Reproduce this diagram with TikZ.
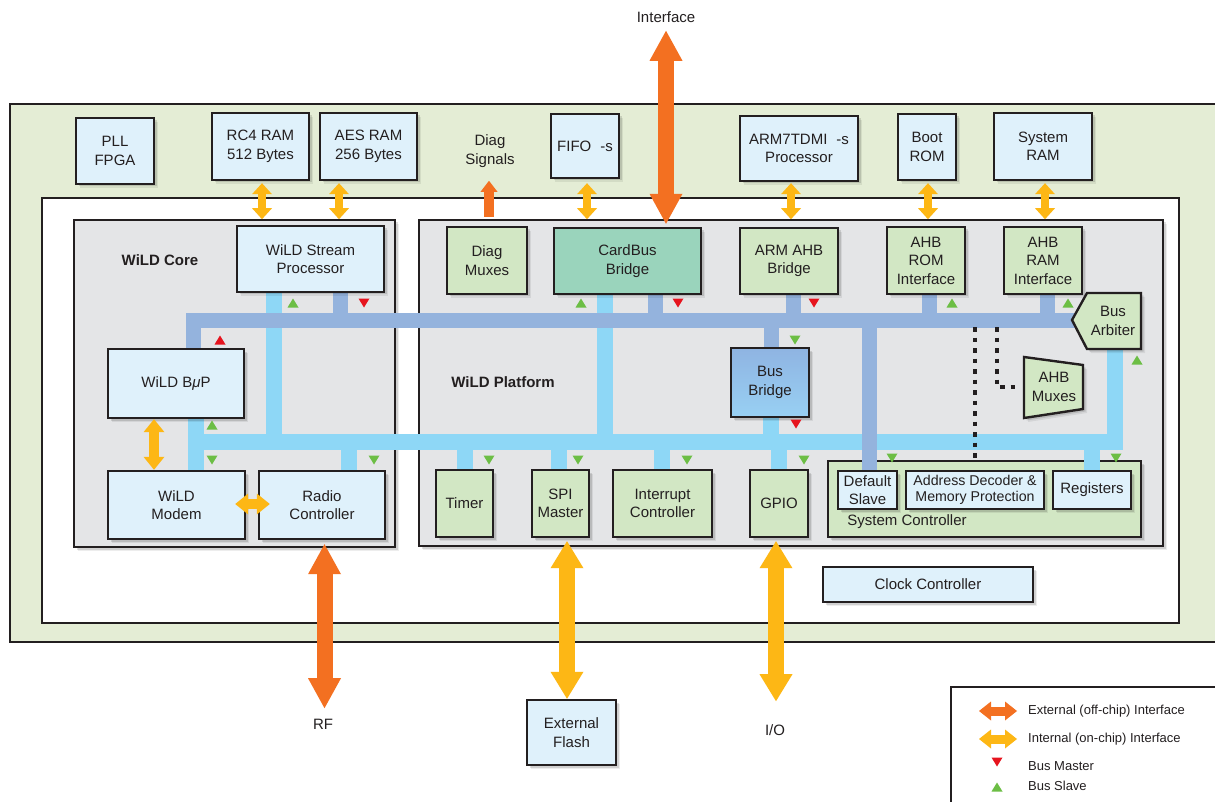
\documentclass[tikz,border=0pt]{standalone}
\usepackage{fontspec}
\setmainfont{Liberation Sans}
\usetikzlibrary{arrows.meta,calc,shadows}

\definecolor{ink}{RGB}{35,31,32}
\definecolor{chipgreen}{RGB}{228,237,213}
\definecolor{panelgray}{RGB}{228,229,231}
\definecolor{boxblue}{RGB}{223,241,251}
\definecolor{boxgreen}{RGB}{210,231,196}
\definecolor{cardteal}{RGB}{154,212,188}
\definecolor{bridgetop}{RGB}{143,180,226}
\definecolor{bridgebot}{RGB}{152,208,243}
\definecolor{ahbblue}{RGB}{148,179,221}
\definecolor{apbblue}{RGB}{142,215,246}
\definecolor{extorange}{RGB}{243,112,33}
\definecolor{intyellow}{RGB}{253,183,21}
\definecolor{masterred}{RGB}{230,20,30}
\definecolor{slavegreen}{RGB}{108,190,69}

\newcommand\boxfont{\fontsize{15}{18.5}\selectfont}
\newcommand\smallboxfont{\fontsize{14.2}{16}\selectfont}
\newcommand\legendfont{\fontsize{13}{15}\selectfont}
% bus role marker: #1 colour, #2 = 1 points up, -1 points down, (#3,#4) centre
\newcommand\busmark[4]{\fill[#1] ({#3-5.5},{#4+4.5*(#2)}) -- ({#3+5.5},{#4+4.5*(#2)}) -- ({#3},{#4-4.5*(#2)}) -- cycle;}

\pgfdeclarelayer{back}
\pgfdeclarelayer{bus}
\pgfsetlayers{back,bus,main}

\tikzset{
  softshadow/.style={
    general shadow={shadow xshift=4pt, shadow yshift=-4pt, fill=black, opacity=0.07},
    general shadow={shadow xshift=2.5pt, shadow yshift=-2.5pt, fill=black, opacity=0.12}},
  chipbox/.style={draw=ink, line width=2.4pt, text=ink, align=center, inner sep=0pt, font=\boxfont, softshadow},
  bluebox/.style={chipbox, fill=boxblue},
  greenbox/.style={chipbox, fill=boxgreen},
  dims/.style 2 args={minimum width=#1pt, minimum height=#2pt},
  panel/.style={draw=ink, line width=2.2pt, fill=panelgray, softshadow},
  caption/.style={text=ink, font=\boxfont, align=center, inner sep=0pt},
  legendtext/.style={text=ink, font=\legendfont, anchor=west, inner sep=0pt},
  ahbbus/.style={draw=ahbblue, line width=15pt, line join=miter},
  apbbus/.style={draw=apbblue, line width=16pt, line join=miter},
  dotline/.style={draw=ink, line width=4.5pt, dash pattern=on 4.5pt off 6pt},
  bigext/.style={draw=extorange, line width=16pt, >={Triangle[width=33pt,length=30pt,line width=0pt]}, <->},
  diagout/.style={draw=extorange, line width=10pt, >={Triangle[width=17pt,length=11pt,line width=0pt]}, ->},
  bigint/.style={draw=intyellow, line width=16pt, >={Triangle[width=33pt,length=27pt,line width=0pt]}, <->},
  toplink/.style={draw=intyellow, line width=8pt, >={Triangle[width=20pt,length=11pt,line width=0pt]}, <->},
  corelink/.style={draw=intyellow, line width=10pt, >={Triangle[width=21pt,length=13pt,line width=0pt]}, <->},
  legext/.style={draw=extorange, line width=9pt, >={Triangle[width=19pt,length=12pt,line width=0pt]}, <->},
  legint/.style={draw=intyellow, line width=9pt, >={Triangle[width=19pt,length=12pt,line width=0pt]}, <->},
}

\begin{document}
\begin{tikzpicture}[x=1pt, y=-1pt]
\path[use as bounding box] (0,0) rectangle (1215,802);
\clip (0,0) rectangle (1215,802);

% ---------- chip, white die area, the two subsystems ----------
\begin{pgfonlayer}{back}
  \fill[white] (0,0) rectangle (1215,802);
  \draw[ink, line width=2.4pt, fill=chipgreen] (10,104) rectangle (1240,642);
  \draw[ink, line width=2.4pt, fill=white] (42,198) rectangle (1179,623);
  \draw[panel] (74,220) rectangle (395,547);
  \draw[panel] (419,220) rectangle (1163,546);
  \node[greenbox, dims={313}{76}] (sysctl) at (984.5,499) {};
\end{pgfonlayer}

% ---------- on-chip memories and peripherals around the die ----------
\node[bluebox, dims={78}{66}] (pll) at (115,151) {PLL\\FPGA};
\node[bluebox, dims={97}{67}] (rc4) at (260.5,146.5) {RC4 RAM\\512 Bytes};
\node[bluebox, dims={97}{67}] (aes) at (368.5,146.5) {AES RAM\\256 Bytes};
\node[caption] (diagsig) at (490,151) {Diag\\Signals};
\node[bluebox, dims={68}{64}] (fifo) at (585,146) {FIFO\hspace{9pt}-s};
\node[bluebox, dims={118}{65}] (arm7) at (799,148.5) {ARM7TDMI\hspace{9pt}-s\\Processor};
\node[bluebox, dims={58}{66}] (bootrom) at (927,147) {Boot\\ROM};
\node[bluebox, dims={98}{67}] (sysram) at (1043,146.5) {System\\RAM};

% ---------- WiLD core ----------
\node[caption, font=\boxfont\bfseries] (corelabel) at (160,260) {WiLD Core};
\node[bluebox, dims={147}{66}] (wsp) at (310.5,259) {WiLD Stream\\Processor};
\node[bluebox, dims={136}{69}] (bup) at (176,383.5) {WiLD B\textit{μ}P};
\node[bluebox, dims={137}{68}] (modem) at (176.5,505) {WiLD\\Modem};
\node[bluebox, dims={126}{68}] (radio) at (322,505) {Radio\\Controller};

% ---------- WiLD platform ----------
\node[caption, font=\boxfont\bfseries] (platlabel) at (503,382) {WiLD Platform};
\node[greenbox, dims={80}{67}] (diagmux) at (487,260.5) {Diag\\Muxes};
\node[chipbox, fill=cardteal, dims={147}{66}] (cardbus) at (627.5,261) {CardBus\\Bridge};
\node[greenbox, dims={98}{66}] (armahb) at (789,261) {ARM AHB\\Bridge};
\node[greenbox, dims={78}{67}] (ahbrom) at (926,260.5) {AHB\\ROM\\Interface};
\node[greenbox, dims={78}{67}] (ahbram) at (1043,260.5) {AHB\\RAM\\Interface};
\node[chipbox, top color=bridgetop, bottom color=bridgebot, dims={78}{69}] (busbridge) at (770,382.5) {Bus\\Bridge};
\node[greenbox, dims={57}{67}] (timer) at (464.5,503.5) {Timer};
\node[greenbox, dims={57}{67}] (spi) at (560.5,503.5) {SPI\\Master};
\node[greenbox, dims={99}{67}] (intc) at (662.5,503.5) {Interrupt\\Controller};
\node[greenbox, dims={58}{67}] (gpio) at (779,503.5) {GPIO};

% system controller contents
\node[bluebox, dims={59}{38}] (defslave) at (867.5,490) {Default\\Slave};
\node[bluebox, dims={138}{38}, font=\smallboxfont] (addrdec) at (975,490) {Address Decoder \&\\Memory Protection};
\node[bluebox, dims={78}{38}] (regs) at (1092,490) {Registers};
\node[caption] (sysctltext) at (907,522) {System Controller};

\node[bluebox, dims={210}{35}] (clock) at (928,584.5) {Clock Controller};
\node[bluebox, dims={89}{65}] (flash) at (571.5,732.5) {External\\Flash};

% arbiter and muxes
\draw[chipbox, fill=boxgreen] (1072,320) -- (1087,293) -- (1141,293) -- (1141,349) -- (1087,349) -- cycle;
\node[caption] (arbiter) at (1113,321) {Bus\\Arbiter};
\draw[chipbox, fill=boxgreen] (1024,357) -- (1083,365) -- (1083,409) -- (1024,418) -- cycle;
\node[caption] (ahbmux) at (1054,387) {AHB\\Muxes};

% ---------- buses ----------
\begin{pgfonlayer}{bus}
  % peripheral bus
  \coordinate (arbbot) at (1115,349);
  \coordinate (apbwest) at (188,442);
  \draw[apbbus] (arbbot) -- (arbbot |- apbwest) -- (apbwest);
  \draw[apbbus] ([xshift=19.5pt]bup.south) -- ([xshift=19pt]modem.north);
  \draw[apbbus] ([xshift=-36.5pt]wsp.south) -- ++(0,150);
  \draw[apbbus] ([xshift=-22.5pt]cardbus.south) -- ++(0,148);
  \draw[apbbus] ([xshift=1pt]busbridge.south) -- ++(0,25);
  \draw[apbbus] ([xshift=26.5pt]radio.north) -- ++(0,-29);
  \draw[apbbus] ([xshift=0.5pt]timer.north) -- ++(0,-28);
  \draw[apbbus] ([xshift=-1.5pt]spi.north) -- ++(0,-28);
  \draw[apbbus] ([xshift=-1pt]intc.north) -- ++(0,-28);
  \draw[apbbus] (gpio.north) -- ++(0,-28);
  \draw[apbbus] (regs.north) -- ++(0,-29);
  % system bus
  \coordinate (arbtip) at (1072,320);
  \draw[ahbbus] ([xshift=17.5pt]bup.north) |- ([xshift=10pt]arbtip);
  \draw[ahbbus] ([xshift=29.5pt]wsp.south) -- ++(0,28);
  \draw[ahbbus] ([xshift=28pt]cardbus.south) -- ++(0,26);
  \draw[ahbbus] ([xshift=4pt]armahb.south) -- ++(0,26);
  \draw[ahbbus] ([xshift=3.5pt]ahbrom.south) -- ++(0,26);
  \draw[ahbbus] ([xshift=4pt]ahbram.south) -- ++(0,26);
  \draw[ahbbus] ([xshift=1pt]busbridge.north) -- ++(0,-28);
  \draw[ahbbus] ([xshift=1.5pt]defslave.north) -- ++(0,-151);
\end{pgfonlayer}

% select lines from the arbiter
\coordinate (dotA) at (975,327);
\coordinate (dotB) at (997,327);
\coordinate (muxw) at (1021,387);
\draw[dotline] (dotA) -- (dotA |- sysctl.north);
\draw[dotline] (dotB) |- (muxw);

% ---------- interfaces ----------
\draw[toplink] ($(rc4.south)+(1.5,2)$) -- ++(0,36);
\draw[toplink] ($(aes.south)+(-29.5,2)$) -- ++(0,36);
\draw[toplink] ($(fifo.south)+(2,4)$) -- ++(0,36);
\draw[toplink] ($(arm7.south)+(-8,1)$) -- ++(0,36);
\draw[toplink] ($(bootrom.south)+(1,2)$) -- ++(0,36);
\draw[toplink] ($(sysram.south)+(2,2)$) -- ++(0,36);
\draw[diagout] ($(diagmux.north)+(2,-9)$) -- ++(0,-36);
\draw[corelink] ([xshift=-22pt]bup.south) -- ([xshift=-22.5pt]modem.north);
\draw[corelink] ($(modem.east)+(-11,-1)$) -- ($(radio.west)+(12,-1)$);

\node[caption] (iflabel) at (666,17) {Interface};
\draw[bigext] ($(cardbus.north)+(38.5,-196)$) -- ($(cardbus.north)+(38.5,-3)$);
\node[caption] (rflabel) at (323,724) {RF};
\draw[bigext] ($(radio.south)+(2.5,4)$) -- ($(radio.south)+(2.5,168)$);
\draw[bigint] ($(spi.south)+(6.5,3)$) -- ($(flash.north)+(-4.5,0)$);
\node[caption] (iolabel) at (775,730) {I/O};
\draw[bigint] ($(gpio.south)+(-3,3)$) -- ++(0,160);

% ---------- bus master / slave markers ----------
\busmark{slavegreen}{1}{293}{303}
\busmark{masterred}{-1}{364}{303}
\busmark{masterred}{1}{220}{340}
\busmark{slavegreen}{1}{581}{303}
\busmark{masterred}{-1}{678}{303}
\busmark{masterred}{-1}{814}{303}
\busmark{slavegreen}{1}{952}{303}
\busmark{slavegreen}{1}{1068}{303}
\busmark{slavegreen}{-1}{795}{340}
\busmark{masterred}{-1}{796}{424}
\busmark{slavegreen}{1}{1137}{360}
\busmark{slavegreen}{1}{212}{425}
\busmark{slavegreen}{-1}{212}{460}
\busmark{slavegreen}{-1}{374}{460}
\busmark{slavegreen}{-1}{489}{460}
\busmark{slavegreen}{-1}{578}{460}
\busmark{slavegreen}{-1}{687}{460}
\busmark{slavegreen}{-1}{804}{460}
\busmark{slavegreen}{-1}{892}{458}
\busmark{slavegreen}{-1}{1116}{458}

% ---------- legend ----------
\draw[ink, line width=2pt] (951,840) -- (951,687) -- (1240,687);
\coordinate (lgA1) at (979,711);
\coordinate (lgA2) at (1017,711);
\coordinate (lgB1) at (979,739);
\coordinate (lgB2) at (1017,739);
\draw[legext] (lgA1) -- (lgA2);
\draw[legint] (lgB1) -- (lgB2);
\node[legendtext] (lgtA) at (1028,711) {External (off-chip) Interface};
\node[legendtext] (lgtB) at (1028,739) {Internal (on-chip) Interface};
\busmark{masterred}{-1}{997}{762}
\node[legendtext] (lgtC) at (1028,766) {Bus Master};
\busmark{slavegreen}{1}{997}{787}
\node[legendtext] (lgtD) at (1028,786) {Bus Slave};
\end{tikzpicture}
\end{document}
